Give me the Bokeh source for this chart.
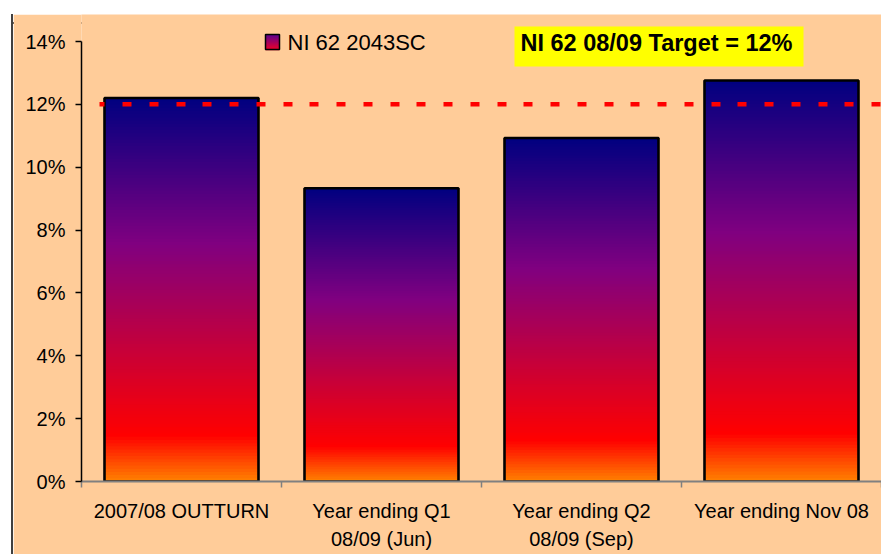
import numpy as np
from bokeh.plotting import figure
from bokeh.layouts import column, row
from bokeh.models import Range1d, FixedTicker, Label, BoxAnnotation, ColumnDataSource, Spacer, Div
from bokeh.embed import file_html
from bokeh.resources import INLINE

# ---------------- data ----------------
categories = ["2007/08 OUTTURN", "Year ending Q1\n08/09 (Jun)",
              "Year ending Q2\n08/09 (Sep)", "Year ending Nov 08"]
values = [12.2, 9.33, 10.93, 12.76]
target = 12.0
y_ticks = [0, 2, 4, 6, 8, 10, 12, 14]
y_tick_labels = ["0%", "2%", "4%", "6%", "8%", "10%", "12%", "14%"]
series_name = "NI 62 2043SC"
target_text = "NI 62 08/09 Target = 12%"

# ---------------- layout ----------------
PEACH = "#FFCC99"
EDGE = "#404040"
FONT = "Liberation Sans"
PAD_L, PAD_T = 11, 12      # white strips left / top of the chart area
W, H = 868, 540            # canvas, placed at page (13, 14)
CX0, CY0 = PAD_L + 2, PAD_T + 2
FRAME_L, FRAME_B = 81, 481  # page px of frame left / x-axis
PX_PER_CAT = 200.0
PX_PER_PCT = 440.0 / 14.0
YMAX = (FRAME_B - CY0) / PX_PER_PCT
BAR_W = 0.77


def dx(px):
    return (px - FRAME_L) / PX_PER_CAT


def dy(py):
    return (FRAME_B - py) / PX_PER_PCT


stops = [(0.0, (0, 0, 128)), (0.38, (128, 0, 128)), (0.88, (255, 0, 0)), (1.0, (255, 130, 0))]


def grad(f):
    for (f0, c0), (f1, c1) in zip(stops[:-1], stops[1:]):
        if f <= f1:
            t = (f - f0) / (f1 - f0)
            c = [int(round(a + (b - a) * t)) for a, b in zip(c0, c1)]
            return "#%02x%02x%02x" % tuple(c)
    return "#%02x%02x%02x" % stops[-1][1]


p = figure(width=W, height=H, x_range=Range1d(0, len(categories)), y_range=Range1d(0, YMAX),
           output_backend="svg", toolbar_location=None,
           min_border_left=FRAME_L - CX0, min_border_right=0, min_border_top=0,
           min_border_bottom=CY0 + H - FRAME_B,
           background_fill_color=PEACH, border_fill_color=PEACH, outline_line_color=None)
p.margin = 0
p.grid.visible = False

# gradient bars (overlapping slices, drawn bottom to top, to avoid seams)
N = 120
L, R, B, T, C = [], [], [], [], []
for i, v in enumerate(values):
    for k in range(N):
        L.append(i + 0.5 - BAR_W / 2)
        R.append(i + 0.5 + BAR_W / 2)
        B.append(v * k / N)
        T.append(min(v * (k + 1.6) / N, v))
        C.append(grad(1 - (k + 0.5) / N))
src = ColumnDataSource(dict(left=L, right=R, bottom=B, top=T, color=C))
p.quad(left="left", right="right", bottom="bottom", top="top", source=src,
       fill_color="color", line_color=None)

xs = np.arange(len(values)) + 0.5
p.quad(left=xs - BAR_W / 2, right=xs + BAR_W / 2, bottom=0, top=values,
       fill_color=None, line_color="#000000", line_width=2.6)

# target line
p.line(x=[dx(99), len(categories)], y=[target, target], line_color="#FF0000", line_width=4.5,
       line_dash="9 18 9 18 9 18 9 17", line_dash_offset=4)

# legend (swatch + text)
sw_l, sw_r, sw_t, sw_b = 265, 279, 34, 49
ns = 15
for k in range(ns):
    f = (k + 0.5) / ns
    c = tuple(int(round(a + (b - a) * f)) for a, b in zip((90, 0, 145), (235, 0, 40)))
    p.add_layout(BoxAnnotation(left=dx(sw_l), right=dx(sw_r),
                               top=dy(sw_t + (sw_b - sw_t) * k / ns),
                               bottom=dy(sw_t + (sw_b - sw_t) * (k + 1) / ns) - 0.02,
                               fill_color="#%02x%02x%02x" % c, fill_alpha=1, line_color=None))
p.add_layout(BoxAnnotation(left=dx(sw_l), right=dx(sw_r), top=dy(sw_t), bottom=dy(sw_b),
                           fill_color=None, fill_alpha=0, line_color="#000000", line_width=1.5, line_alpha=1))
p.add_layout(Label(x=dx(287), y=dy(41.5), text=series_name, text_font=FONT,
                   text_font_size="22px", text_baseline="middle", text_align="left",
                   text_color="#000000"))

# target annotation box
p.add_layout(BoxAnnotation(left=dx(514), right=dx(803), top=dy(26), bottom=dy(66),
                           fill_color="#FFFF00", fill_alpha=1, line_color=None))
p.add_layout(Label(x=dx(520), y=dy(42.3), text=target_text, text_font=FONT,
                   text_font_size="23.5px", text_font_style="bold", text_baseline="middle",
                   text_align="left", text_color="#000000"))

# x axis
xa = p.xaxis[0]
xa.ticker = FixedTicker(ticks=list(xs), minor_ticks=list(range(len(categories) + 1)))
xa.major_label_overrides = {float(x): c for x, c in zip(xs, categories)}
xa.major_tick_out = 0
xa.major_tick_in = 0
xa.minor_tick_out = 6
xa.minor_tick_in = 0
xa.minor_tick_line_color = "#808080"
xa.minor_tick_line_width = 1.5
xa.axis_line_color = "#808080"
xa.axis_line_width = 2
xa.major_label_standoff = 12
xa.major_label_text_font = FONT
xa.major_label_text_font_size = "20px"
xa.major_label_text_color = "#000000"
xa.major_label_text_line_height = 1.3

# y axis
ya = p.yaxis[0]
ya.ticker = FixedTicker(ticks=y_ticks, minor_ticks=[])
ya.major_label_overrides = {t: l for t, l in zip(y_ticks, y_tick_labels)}
ya.bounds = (0, 14)
ya.major_tick_out = 6
ya.major_tick_in = 0
ya.major_tick_line_color = "#000000"
ya.major_tick_line_width = 1.5
ya.minor_tick_out = 0
ya.minor_tick_in = 0
ya.axis_line_color = "#000000"
ya.axis_line_width = 1.5
ya.major_label_standoff = 10
ya.major_label_text_font = FONT
ya.major_label_text_font_size = "20px"
ya.major_label_text_color = "#000000"

# page placement: white strips + dark top/left edge of the chart area
top_edge = Div(text='<div style="width:%dpx;height:2px;background:%s;"></div>' % (W + 2, EDGE),
               width=W + 2, height=2, margin=0)
left_edge = Div(text='<div style="width:2px;height:%dpx;background:%s;"></div>' % (H, EDGE),
                width=2, height=H, margin=0)
root = column(Spacer(width=PAD_L + 2 + W, height=PAD_T, margin=0),
              row(Spacer(width=PAD_L, height=2, margin=0), top_edge, spacing=0, margin=0),
              row(Spacer(width=PAD_L, height=H, margin=0), left_edge, p, spacing=0, margin=0),
              spacing=0, margin=0)

open("out.html", "w").write(file_html(root, INLINE))
